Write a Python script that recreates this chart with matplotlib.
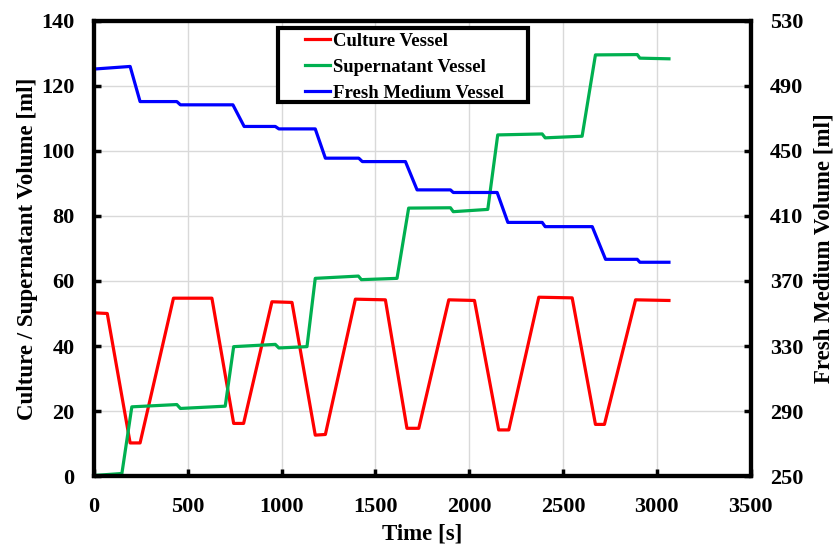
import matplotlib
matplotlib.use("Agg")
import matplotlib.pyplot as plt
from matplotlib.patches import Rectangle

plt.rcParams['font.family'] = ['Liberation Serif', 'DejaVu Serif']
plt.rcParams['font.weight'] = 'bold'

# culture vessel volume [ml] (left axis)
t_culture = [0, 70, 192, 245, 423, 628, 744, 797, 948, 1055, 1179, 1233, 1393, 1553,
             1668, 1731, 1891, 2028, 2157, 2211, 2371, 2549, 2673, 2721, 2887, 3065]
v_culture = [50.2, 50.0, 10.2, 10.2, 54.7, 54.7, 16.2, 16.2, 53.6, 53.4, 12.6, 12.8, 54.4, 54.2,
             14.7, 14.7, 54.2, 54.0, 14.2, 14.2, 55.0, 54.8, 15.9, 15.9, 54.2, 54.0]

# supernatant vessel volume [ml] (left axis)
t_super = [0, 148, 201, 441, 460, 699, 744, 966, 985, 1135, 1179, 1409, 1425, 1615,
           1677, 1900, 1915, 2099, 2152, 2389, 2405, 2602, 2673, 2896, 2910, 3065]
v_super = [0.2, 0.8, 21.3, 22.0, 20.8, 21.5, 39.8, 40.5, 39.4, 39.8, 60.8, 61.5, 60.4, 60.8,
           82.4, 82.5, 81.3, 82.0, 104.9, 105.2, 104.0, 104.5, 129.5, 129.6, 128.5, 128.3]

# fresh medium vessel volume [ml] (right axis)
t_fresh = [0, 192, 245, 441, 460, 740, 800, 966, 985, 1179, 1233, 1411, 1430, 1660,
           1722, 1900, 1915, 2149, 2206, 2389, 2405, 2656, 2727, 2896, 2910, 3065]
v_fresh = [500.3, 501.9, 480.3, 480.3, 478.3, 478.3, 465.0, 465.0, 463.5, 463.5, 445.5, 445.5,
           443.4, 443.4, 426.0, 426.0, 424.4, 424.4, 406.0, 406.0, 403.4, 403.4, 383.3, 383.3,
           381.5, 381.5]

fig = plt.figure(figsize=(8.33, 5.46), dpi=100)
ax = fig.add_axes([0.113, 0.128, 0.788, 0.834])
ax2 = ax.twinx()

l1, = ax.plot(t_culture, v_culture, color='#ff0000', lw=2.3, label='Culture Vessel')
l2, = ax.plot(t_super, v_super, color='#00b050', lw=2.3, label='Supernatant Vessel')
l3, = ax2.plot(t_fresh, v_fresh, color='#0000ff', lw=2.3, label='Fresh Medium Vessel')

ax.set_xlim(0, 3500)
ax.set_ylim(0, 140)
ax2.set_ylim(250, 530)
ax.set_xticks(range(0, 3501, 500))
ax.set_yticks(range(0, 141, 20))
ax2.set_yticks(range(250, 531, 40))

ax.grid(True, color='#d9d9d9', lw=1)
ax.set_axisbelow(True)

for a in (ax, ax2):
    for s in a.spines.values():
        s.set_linewidth(3)
    a.tick_params(direction='in', width=2.5, length=5, labelsize=16, pad=14)
ax.tick_params(axis='x', pad=15)

ax.set_xlabel('Time [s]', fontsize=16.5, fontweight='bold')
ax.set_ylabel('Culture / Supernatant Volume [ml]', fontsize=16.5, fontweight='bold')
ax2.set_ylabel('Fresh Medium Volume [ml]', fontsize=16.5, fontweight='bold')
ax.xaxis.set_label_coords(0.5, -0.105)
ax.yaxis.set_label_coords(-0.086, 0.5)
ax2.yaxis.set_label_coords(1.096, 0.5)

# legend box drawn separately so the handles sit indented as in the original
ax2.add_patch(Rectangle((0.3337, 0.8132), 0.300, 0.1355, transform=fig.transFigure,
                        facecolor='white', edgecolor='black', lw=3, zorder=4, clip_on=False))
leg = ax2.legend(handles=[l1, l2, l3], loc='upper left', bbox_to_anchor=(0.366, 0.940),
                 bbox_transform=fig.transFigure, prop={'size': 13.5, 'weight': 'bold'},
                 frameon=False, handlelength=1.35, handletextpad=0.15, borderpad=0,
                 labelspacing=0.47, borderaxespad=0)
leg.set_zorder(5)

fig.savefig('out.png', dpi=100)
